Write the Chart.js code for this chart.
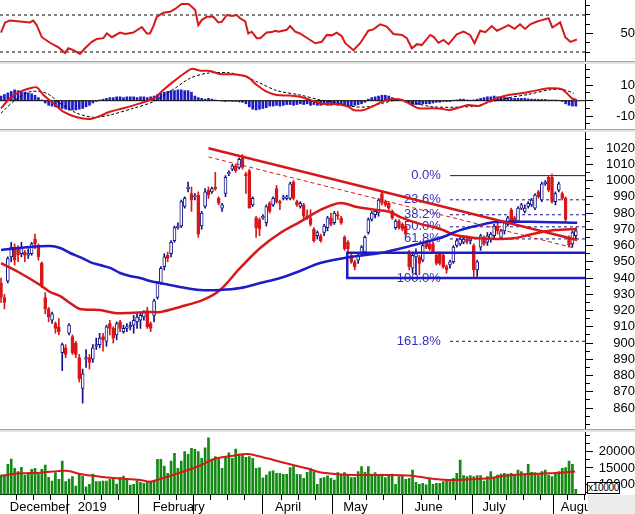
<!DOCTYPE html>
<html>
<head>
<meta charset="utf-8">
<script src="https://cdn.jsdelivr.net/npm/chart.js@4/dist/chart.umd.min.js"></script>
<style>
body { margin: 0; background: #fff; }
#wrap { position: relative; width: 635px; height: 514px; overflow: hidden; font-family: 'Liberation Sans', Arial, sans-serif; }
canvas { position: absolute; left: 0; }
.sep { position: absolute; left: 0; width: 635px; height: 2px; border-top: 1px solid #a4a4a4; background: #e4e4e4; }
#corner { position: absolute; left: 588px; top: 495px; width: 47px; height: 19px; background: #ececec; }
#unit { position: absolute; left: 587px; top: 482px; width: 31px; height: 10px; border: 1px solid #000; background: #fff;
        font-size: 10px; line-height: 10px; text-align: center; letter-spacing: -0.3px; }
</style>
</head>
<body>
<div id="wrap">
  <canvas id="rsi" width="635" height="61" style="top:0"></canvas>
  <div class="sep" style="top:61px"></div>
  <canvas id="macd" width="635" height="65" style="top:64px"></canvas>
  <div class="sep" style="top:129px"></div>
  <canvas id="price" width="635" height="297" style="top:132px"></canvas>
  <div class="sep" style="top:429px"></div>
  <canvas id="vol" width="635" height="82" style="top:432px"></canvas>
  <div id="corner"></div>
  <div id="unit">x10000</div>
</div>
<script>
// daily candles, one per trading day (index 0 = late Nov 2018)
const opens = [
  937,928,938,953,959,958,955,956,954,955, 964,960,949,928,921,914,912,910,894,897,
  906,904,900,891,872,890,891,890,898,899, 904,901,912,909,905,913,907,909,910,911,
  913,914,916,920,912,917,928,937,947,954, 955,963,971,972,984,995,992,990,991,972,
  984,994,993,996,989,983,992,1004,1007,1009, 1008,1014,1004,1006,985,977,976,977,974,986,
  985,995,987,989,989,989,999,987,984,985, 978,977,970,966,966,968,971,977,974,979,
  977,965,962,954,950,951,955,956,968,976, 979,980,992,987,986,981,971,975,973,972,
  956,946,953,953,951,962,961,961,954,955, 954,947,948,950,960,961,962,964,963,960,
  945,959,965,962,964,966,972,965,969,973, 982,977,975,983,981,984,985,983,993,988,
  998,1002,1002,987,994,992,989,965,961,966
];
const highs = [
  940,930,953,962,961,960,962,957,958,962, 967,961,950,931,922,919,913,915,900,899,
  912,905,901,893,884,896,893,899,903,906, 906,911,914,910,913,914,911,912,913,917,
  918,919,920,922,913,927,938,947,955,956, 963,972,974,988,990,999,996,992,993,981,
  995,996,996,1005,990,986,1003,1006,1010,1010, 1014,1016,1005,1007,990,978,977,979,985,987,
  990,997,988,991,991,999,1000,988,987,986, 982,982,971,969,967,973,978,980,981,981,
  978,966,963,955,951,955,960,966,977,981, 982,989,994,988,987,982,976,976,974,973,
  957,955,958,954,962,963,962,962,955,956, 955,948,951,960,964,965,966,966,965,961,
  951,967,966,968,968,973,974,970,975,978, 983,978,984,986,985,987,989,992,994,999,
  1000,1003,1004,993,999,993,990,966,969,971
];
const lows = [
  925,921,937,950,948,950,953,950,952,954, 958,951,934,918,913,912,906,905,883,891,
  905,893,891,876,863,885,884,888,896,897, 895,898,905,900,902,907,906,907,908,906,
  909,909,914,909,907,913,927,936,945,950, 953,962,970,971,983,993,981,988,965,970,
  983,989,992,994,985,981,990,1003,1006,1005, 1007,1007,992,983,984,965,966,976,972,980,
  984,986,982,988,988,988,988,984,983,976, 976,972,962,964,962,966,969,972,973,976,
  973,957,956,949,945,949,954,955,967,975, 977,978,985,984,982,976,970,970,969,966,
  945,943,942,942,950,958,957,955,948,948, 946,943,946,949,959,960,961,961,961,941,
  941,957,960,960,962,964,967,964,967,972, 974,973,974,982,980,983,984,982,989,987,
  997,993,986,985,993,988,975,959,959,964
];
const closes = [
  928,925,952,959,951,954,959,954,955,961, 961,953,935,921,916,918,909,907,899,893,
  911,894,893,878,881,891,888,897,899,903, 902,910,909,903,912,909,909,910,911,914,
  916,917,919,910,909,926,937,946,953,952, 962,971,972,987,989,996,988,990,967,980,
  993,991,995,995,986,985,1002,1005,1009,1006, 1013,1008,1003,983,989,971,970,978,984,981,
  989,987,986,990,990,998,989,985,986,978, 977,973,963,968,963,972,977,973,980,978,
  974,958,958,950,947,954,959,965,976,980, 981,988,986,985,983,977,975,971,970,967,
  947,954,955,949,960,959,958,956,949,949, 947,945,950,959,963,964,964,962,964,945,
  950,966,961,966,967,972,969,969,974,977, 975,974,983,985,983,986,988,991,990,998,
  999,994,987,992,998,989,976,960,968,969
];
const volumes = [
  12850,12850,16130,17760,14900,13870,15210,12850,13370,14600, 14900,13070,14600,15920,12150,11010,13560,11530,17150,10800,
  11630,12330,9480,13160,12550,9260,10000,13160,10800,10800, 11010,11010,11530,12150,10090,12150,12550,11840,9790,10000,
  11100,10610,10310,10800,10800,11000,17670,17670,15610,13370, 17150,19510,14900,17150,20000,19200,21040,20730,20000,17970,
  21220,24290,17450,18470,17670,14900,18280,19690,17970,20830, 19290,19200,18280,18500,17970,14900,15100,12000,12850,13890,
  14170,13370,13370,13070,13070,15100,15400,13070,13000,11840, 13670,14900,13890,10000,11840,12050,12560,11840,11330,13580,
  12860,13580,12860,12050,12150,13890,15420,13680,15420,13170, 13580,12660,13170,12050,12860,13170,10000,12350,12660,11530,
  11840,14400,10610,10000,10310,9800,11840,10000,10310,10310, 10820,11330,11330,11840,13370,17460,12660,12350,12660,12350,
  12660,12660,11020,12350,13890,12050,12860,13170,13370,13170, 13370,12660,14400,13890,13170,16130,13680,13580,12860,13890,
  14400,12860,12350,13370,13890,14910,15110,17160,16130,8470
];
// indicator readings as [day index, value]
const maRed = [[0,949.2],[5.6,943.1],[11.5,935.7],[14.4,931.4],[17.4,928.9],[20.3,924.6],[23.2,920.9],[29.1,920.3],[33.5,918.5],
  [37.9,918.5],[42.9,919.1],[46.8,919.1],[52.6,922.2],[59.4,926.5],[64.4,932.6],[70.3,946.2],[76.2,958.5],[82.1,967.7],
  [87.9,974.5],[93.8,981.8],[99.7,986.2],[104.7,983.7],[110.6,981.8],[114.4,980.6],[117.4,977.5],[122.4,973.8],[129.1,970.2],
  [133.5,966.5],[139.4,964.6],[145.3,964],[151.2,964.6],[155,966.5],[159.1,968.3],[162.9,969.5],[169.4,970.2]];
const maBlue = [[0,957.2],[8.5,959.1],[14.4,959.7],[17.4,958.5],[20.3,955.4],[23.2,952.9],[26.2,949.8],[29.1,948],[32.1,946.2],
  [35,943.1],[37.9,941.2],[40.9,940],[43.8,938.2],[46.8,936.9],[52.6,934.5],[58.5,932.6],[64.4,932.6],[70.3,933.8],[76.2,936.9],
  [82.1,940],[87.9,944.3],[93.8,949.2],[102.6,952.9],[111.5,955.4],[120.3,959.7],[129.1,964.6],[135,969.5],[140.9,972.6],
  [145.3,974.5],[158.5,974.5],[169.4,974]];
const volMa = [[0,12640],[5.6,13370],[11.5,13560],[19.3,14170],[23.2,13160],[29.1,12330],[34,11840],[40.9,11330],[43.8,10800],
  [46.8,11630],[52.6,13560],[58.5,15700],[62.4,17670],[68.3,18780],[72.3,19290],[75.2,18780],[80.1,17450],[85,16130],[89.9,14900],
  [93.8,13680],[98.2,13160],[104.1,12850],[112,12850],[120.8,12650],[125.7,11840],[131.6,11330],[138.4,11530],[143.3,11840],
  [147.3,12550],[155.1,13160],[161,13370],[168.8,13890]];
const rsi = [[0,51],[1.2,62],[2.6,64],[5.6,63],[8.5,62],[9.5,64],[10.5,59],[12,46],[14.4,40],[16.9,35],[18.8,29],[19.8,34],
  [21.3,32],[23.2,28],[24.7,34],[26.7,41],[28.1,44],[30.1,45],[31.1,50],[32.6,46],[35,51],[36.5,49.5],[38.9,51],[41.4,57],
  [42.9,50],[43.8,50],[44.8,58],[45.8,68],[47.7,72.5],[49.7,73.5],[51.2,76.5],[53.1,82],[55.1,82],[56.1,79],[57.1,75.5],
  [58,59],[59,64.5],[60.5,68],[62.4,68],[63.9,62],[64.9,62.5],[66.4,70],[67.9,69],[69.3,70],[70.3,66.5],[71.8,63],[72.7,50],
  [73.7,52],[75.2,45],[76.2,45],[78.1,51],[79.6,51.5],[80.6,53],[81.6,52],[84,54],[85,58],[86.5,52],[87.9,50],[89.4,46.5],
  [90.9,43],[92.4,39.5],[94.3,41],[95.8,48.5],[97.3,48],[98.7,51],[100.2,47],[101.2,39.5],[103.6,32],[105.6,39.5],[108,53],
  [109.5,54.5],[111.5,60],[113.4,57.5],[115.4,49.5],[117.9,48.5],[119.3,45],[120.8,34],[122.3,38.5],[123.7,37.5],[126.2,48.5],
  [127.2,46.5],[128.6,40],[130.1,43],[131.6,38.5],[134,49],[136,52],[137.9,48.5],[139.2,39.5],[140.9,53],[142.4,51.5],
  [144.3,58],[145.8,53],[147.3,55.5],[149.2,59],[151,55],[152.6,60],[154.1,55],[155.6,60],[157.6,63],[159,64.5],[161,66.5],
  [162.1,56.5],[164.4,62],[165.9,46],[167.4,41],[169.3,43.5]];
const macd = [[0,-4.9],[2.6,1.5],[5.6,5.8],[8.5,8],[10.5,8.6],[12.5,3.7],[15.4,-1.7],[18.3,-7.1],[22.3,-10.7],[26.2,-11.8],
  [29.1,-9.9],[32,-7.1],[36,-4.9],[40.9,-1.7],[44.8,1.5],[47.7,6.9],[50.7,12.3],[53.6,17.2],[56,20.5],[58.5,19.4],[61.5,19.2],
  [64.4,17.2],[68.3,17],[72.3,15.5],[75.2,10.1],[78.1,5.8],[81.1,3.7],[85,3.3],[87.9,2.6],[90.9,0.5],[93.8,-1.7],[95.3,-2.1],
  [99.2,-2.3],[102.2,-3.9],[103.6,-6],[106.6,-6],[109.5,-3.4],[112,-0.6],[114.9,1.1],[117.9,0.5],[120.8,-2.8],[122.8,-4.9],
  [126.7,-4.9],[129.6,-5.2],[131.6,-6],[134.5,-4.5],[137.4,-2.8],[140.4,-3.4],[143.3,-0.6],[146.3,1.9],[149.2,3.7],[153.1,4.8],
  [157.1,6.5],[161,8],[164.9,7.4],[167.9,1.5],[169.3,0.5]];
const signal = [[0,-8.1],[3.6,-0.6],[8.5,5.8],[13.4,4.8],[17.4,-1.7],[22.3,-8.1],[27.2,-10.7],[32,-9.2],[38.9,-4.9],[44.8,-0.6],
  [50.7,7.4],[55.6,14.5],[60.5,17.7],[66.4,18.1],[70.3,16.6],[75.2,12.3],[81.1,6.5],[87.9,3.7],[93.8,0.5],[98.2,-1.2],[104,-3.9],
  [107.9,-3.9],[112,-1.7],[116.9,0.5],[121.8,-1.7],[126.7,-3.9],[133.5,-4.2],[139.4,-3.4],[144.3,-0.6],[149.2,1.9],[155.1,4.1],
  [161,6.9],[164.9,7.4],[168.4,4.8]];
const hist = [
  3,4,5,6,7,6.5,6,5.5,5,4.5, 3.5,2,0.5,-1.5,-3,-3.5,-4,-4.5,-5,-5.5,
  -6,-6,-6,-5.5,-5,-4,-3,-1.5,-0.5,0.5, 1,1.5,2,2,2.5,2.5,2,2.5,2.5,2.5,
  2,2.5,2.5,2,2.5,3,4,5,5.5,6, 6.5,6.5,7,7,6.5,6.5,5.5,3,2,1.5,
  1,1.5,1,0.5,0,-0.3,-0.5,-0.3,-0.5,-0.5, -0.8,-1,-2,-4,-5.5,-6,-5.5,-5,-4.5,-3.5,
  -3.5,-3,-3.5,-3,-2.5,-2.5,-3,-2.5,-2,-2.5, -2,-3,-2.5,-3,-3,-2.5,-3,-3,-2.5,-3,
  -2.5,-3,-3,-3.5,-3,-2.5,-2,-1,1,2, 2.5,3,3.5,3.5,3,2,1,1,0.5,-1,
  -2,-2.5,-2.5,-2.5,-2,-2,-2,-1.5,-1,-1, -0.5,-0.5,-0.5,0.3,0.5,1,1,0.5,0.3,0.5,
  1,1.5,2,2.5,2.5,3,2.5,2.5,2,2, 1.5,1.5,1.5,1.5,1.5,1.2,1,1,0.8,0.8,
  0.8,0.5,0.5,0.5,0.3,-0.5,-2,-3,-3.5,-3.5
];
// drawing tools on the price panel
const trendTop = [[61, 1019.8], [169.4, 963.4]];
const trendDash = [[61, 1014.5], [168, 958.8]];
const fibHigh = 1003, fibLow = 940;
const fibRatios = [0, 0.236, 0.382, 0.5, 0.618, 1, 1.618];
const fibLabels = ['0.0%', '23.6%', '38.2%', '50.0%', '61.8%', '100.0%', '161.8%'];
const fibStart = 132, fibLabelAt = 129.3;
const boxTop = 955.6, boxStart = 101.8;
const rsiBands = [70, 30];
// axis ticks (all tick marks, then the ones that carry a label)
const rsiMarks = [30, 40, 50, 60, 70, 80];
const rsiLabels = [50];
const macdMarks = [-15, -10, -5, 0, 5, 10, 15, 20];
const macdLabels = [-10, 0, 10];
const priceLabels = [860, 870, 880, 890, 900, 910, 920, 930, 940, 950, 960, 970, 980, 990, 1000, 1010, 1020];
const priceMarks = [850, ...priceLabels.flatMap(v => [v - 5, v]), 1025];
const volMarks = [7500, 10000, 12500, 15000, 17500, 20000, 22500, 25000];
const volLabels = [10000, 15000, 20000];
const monthIdx = [2, 22, 44, 59, 80, 100, 121, 141, 164];
const monthNames = ['December', '2019', 'February', '', 'April', 'May', 'June', 'July', 'August'];
const weekIdx = [7, 12, 17, 27, 32, 37, 49, 54, 64, 69, 74, 85, 90, 95, 105, 110, 115, 126, 131, 136, 146, 151, 156, 161, 169];

const RED = '#d81818', NAVY = '#12128a', BLUE = '#1c1cc8', GREEN = '#138a13';
const xMin = -0.3, xMax = 171.7;

Chart.defaults.font.family = "'Liberation Sans', Arial, sans-serif";
Chart.defaults.font.size = 13;
Chart.defaults.color = '#000';

const pts = arr => arr.map(([x, y]) => ({x, y}));
const flat = (y, x0, x1) => [{x: x0, y}, {x: x1, y}];
const days = closes.map((_, i) => i);
const isUp = days.map(i => closes[i] >= opens[i]);
const tickVal = c => (c && c.tick) ? c.tick.value : NaN;

function noPad(s) { s.paddingTop = 0; s.paddingBottom = 0; s.paddingLeft = 0; s.paddingRight = 0; }

function hiddenX() {
    return {type: 'linear', min: xMin, max: xMax, offset: false, display: false};
}

function rightAxis(min, max, marks, labelled, pad) {
    return {
        position: 'right', min, max,
        afterBuildTicks: s => { s.ticks = marks.filter(v => v > min && v < max).map(v => ({value: v})); },
        afterFit: s => { s.width = 50; noPad(s); },
        border: {display: true, color: '#000', width: 1},
        grid: {
            drawOnChartArea: false, drawTicks: true, tickLength: 8, tickColor: '#000', tickWidth: 1,
            tickBorderDash: c => labelled.includes(tickVal(c)) ? [] : [4, 20],
        },
        ticks: {
            autoSkip: false, padding: pad, crossAlign: 'far', color: '#000', font: {size: 13},
            callback: v => labelled.includes(v) ? String(v) : '',
        }
    };
}

function baseOptions(scales) {
    return {
        responsive: false, animation: false, events: [],
        layout: {padding: 0},
        plugins: {legend: {display: false}, tooltip: {enabled: false}},
        scales,
    };
}

function line(data, color, width, extra) {
    return Object.assign({type: 'line', data, borderColor: color, borderWidth: width,
        pointRadius: 0, fill: false, tension: 0}, extra || {});
}

// RSI
new Chart(document.getElementById('rsi'), {
    type: 'line',
    data: {datasets: [
        line(pts(rsi), RED, 2, {order: 1}),
        line(flat(rsiBands[0], xMin, xMax), '#000', 1, {borderDash: [3, 3], order: 2}),
        line(flat(rsiBands[1], xMin, xMax), '#000', 1, {borderDash: [3, 3], order: 2}),
    ]},
    options: baseOptions({x: hiddenX(), y: rightAxis(20.3, 86.2, rsiMarks, rsiLabels, 23)}),
});

// MACD
new Chart(document.getElementById('macd'), {
    type: 'bar',
    data: {datasets: [
        {type: 'bar', data: days.map(i => ({x: i, y: hist[i]})), backgroundColor: BLUE,
         barThickness: 2, grouped: false, order: 4},
        line(flat(0, xMin, xMax), '#000', 1, {order: 3}),
        line(pts(signal), '#000', 1, {borderDash: [3, 2], tension: 0.3, order: 2}),
        line(pts(macd), RED, 2, {tension: 0.3, order: 1}),
    ]},
    options: baseOptions({x: hiddenX(), y: rightAxis(-18.26, 23.68, macdMarks, macdLabels, 19)}),
});

// price panel
const fibText = {
    id: 'fibText',
    beforeDatasetsDraw(chart) {
        const {ctx, scales: {x, y}} = chart;
        ctx.save();
        ctx.font = "13px 'Liberation Sans', Arial, sans-serif";
        ctx.fillStyle = '#3232b6';
        ctx.textAlign = 'right';
        ctx.textBaseline = 'middle';
        fibRatios.forEach((r, k) => {
            const lv = fibHigh - r * (fibHigh - fibLow);
            ctx.fillText(fibLabels[k], x.getPixelForValue(fibLabelAt), y.getPixelForValue(lv));
        });
        ctx.restore();
    }
};

const fibSets = fibRatios.map(r => line(flat(fibHigh - r * (fibHigh - fibLow), fibStart, xMax), NAVY, 1,
    {borderDash: (r === 0 || r === 1) ? [] : [3, 3], order: 12}));

new Chart(document.getElementById('price'), {
    type: 'bar',
    data: {datasets: [
        ...fibSets,
        {type: 'bar', data: days.map(i => ({x: i, y: [lows[i], highs[i]]})),
         backgroundColor: days.map(i => isUp[i] ? NAVY : RED), barThickness: 1, grouped: false, order: 10},
        {type: 'bar', data: days.map(i => ({x: i, y: [opens[i], closes[i]]})),
         backgroundColor: days.map(i => isUp[i] ? '#fff' : RED),
         borderColor: days.map(i => isUp[i] ? NAVY : RED),
         borderWidth: 1, borderSkipped: false, minBarLength: 1, barThickness: 3, grouped: false, order: 9},
        line([{x: xMax, y: boxTop}, {x: boxStart, y: boxTop}, {x: boxStart, y: fibLow}, {x: xMax, y: fibLow}], BLUE, 2.5, {order: 4}),
        line(pts(maBlue), BLUE, 2.5, {tension: 0.3, order: 3}),
        line(pts(maRed), RED, 2.5, {tension: 0.3, order: 3}),
        line(pts(trendDash), RED, 1, {borderDash: [4, 3], order: 2}),
        line(pts(trendTop), RED, 2.5, {order: 1}),
    ]},
    options: baseOptions({x: hiddenX(), y: rightAxis(847.1, 1029.85, priceMarks, priceLabels, 9)}),
    plugins: [fibText],
});

// volume + date axis
const tickIdx = monthIdx.concat(weekIdx).sort((a, b) => a - b);
new Chart(document.getElementById('vol'), {
    type: 'bar',
    data: {datasets: [
        {type: 'bar', data: days.map(i => ({x: i, y: volumes[i]})), backgroundColor: GREEN,
         barThickness: 2, grouped: false, order: 2},
        line(pts(volMa), RED, 2, {tension: 0.3, order: 1}),
    ]},
    options: baseOptions({
        x: {
            type: 'linear', min: xMin, max: xMax, offset: false, position: 'bottom',
            afterBuildTicks: s => { s.ticks = tickIdx.map(v => ({value: v})); },
            afterFit: s => { s.height = 19.5; noPad(s); },
            border: {display: true, color: '#000', width: 1},
            grid: {
                drawOnChartArea: false, drawTicks: true, tickLength: 20, tickColor: '#000',
                tickBorderDash: c => monthIdx.includes(tickVal(c)) ? [] : [5, 40],
            },
            ticks: {
                autoSkip: false, maxRotation: 0, minRotation: 0, align: 'start', padding: -15, labelOffset: 2,
                color: '#000', font: {size: 13},
                callback: v => { const k = monthIdx.indexOf(v); return k < 0 ? '' : monthNames[k]; },
            }
        },
        y: rightAxis(6871, 26043, volMarks, volLabels, 2),
    }),
});
</script>
</body>
</html>
